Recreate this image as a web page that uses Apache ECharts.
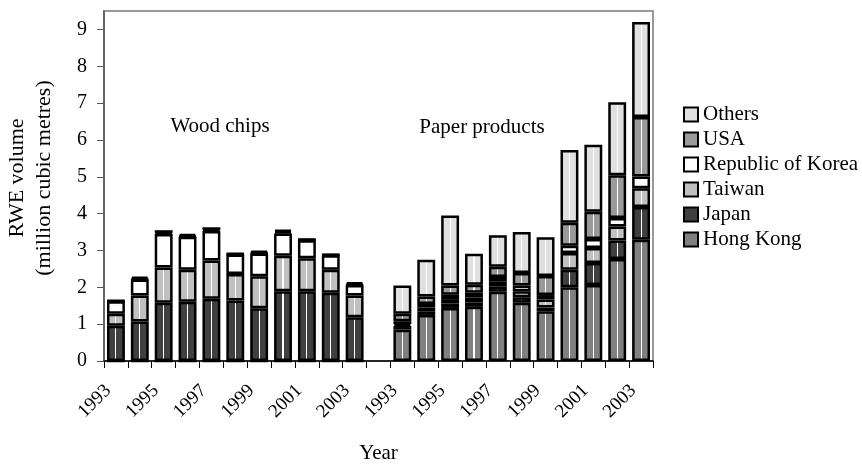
<!DOCTYPE html>
<html>
<head>
<meta charset="utf-8">
<script src="https://cdn.jsdelivr.net/npm/echarts@6/dist/echarts.min.js"></script>
<style>
html,body{margin:0;padding:0;background:#fff;}
#chart{width:862px;height:465px;}
</style>
</head>
<body>
<div id="chart"></div>
<script>
// ---- DATA ----
const years = ['1993','1994','1995','1996','1997','1998','1999','2000','2001','2002','2003'];
const groups = ['Wood chips', 'Paper products'];
const yTicks = [0,1,2,3,4,5,6,7,8,9];

const seriesNames = ['Hong Kong','Japan','Taiwan','Republic of Korea','USA','Others'];
const legendOrder = ['Others','USA','Republic of Korea','Taiwan','Japan','Hong Kong'];

// Wood chips (million cubic metres RWE)
const woodHongKong = [0,0,0,0,0,0,0,0,0,0,0];
const woodJapan    = [0.96,1.07,1.58,1.61,1.69,1.64,1.43,1.89,1.89,1.85,1.19];
const woodTaiwan   = [0.32,0.71,0.96,0.87,1.04,0.72,0.87,0.97,0.90,0.63,0.59];
const woodKorea    = [0.34,0.43,0.91,0.89,0.80,0.53,0.62,0.60,0.49,0.39,0.28];
const woodUSA      = [0.01,0.02,0.03,0.02,0.03,0.01,0.02,0.05,0.01,0.01,0.02];
const woodOthers   = [0.01,0.06,0.07,0.06,0.07,0.02,0.05,0.05,0.01,0.01,0.06];

// Paper products
const paperHongKong = [0.85,1.25,1.44,1.47,1.88,1.58,1.35,2.00,2.06,2.77,3.29];
const paperJapan    = [0.10,0.10,0.12,0.12,0.14,0.15,0.10,0.48,0.60,0.50,0.89];
const paperTaiwan   = [0.05,0.10,0.12,0.13,0.13,0.16,0.22,0.45,0.41,0.38,0.51];
const paperKorea    = [0.08,0.10,0.12,0.13,0.13,0.16,0.12,0.20,0.24,0.23,0.32];
const paperUSA      = [0.20,0.20,0.25,0.22,0.28,0.34,0.52,0.62,0.74,1.16,1.61];
const paperOthers   = [0.77,1.00,1.90,0.84,0.85,1.11,1.05,1.98,1.82,1.98,2.58];

// ---- BUILD ----
const categories = years.map(y => 'W' + y).concat(['gap']).concat(years.map(y => 'P' + y));
function join(a, b) { return a.concat([null]).concat(b); }
const seriesData = {
  'Hong Kong': join(woodHongKong, paperHongKong),
  'Japan': join(woodJapan, paperJapan),
  'Taiwan': join(woodTaiwan, paperTaiwan),
  'Republic of Korea': join(woodKorea, paperKorea),
  'USA': join(woodUSA, paperUSA),
  'Others': join(woodOthers, paperOthers)
};
const baseColors = {
  'Hong Kong': '#808080',
  'Japan': '#404040',
  'Taiwan': '#c0c0c0',
  'Republic of Korea': '#ffffff',
  'USA': '#9a9a9a',
  'Others': '#e0e0e0'
};
// fill with a thin white vertical line through the middle (pattern look)
function striped(c) {
  if (c === '#ffffff') return c;
  return new echarts.graphic.LinearGradient(0, 0, 1, 0, [
    { offset: 0, color: c }, { offset: 0.47, color: c },
    { offset: 0.47, color: '#ffffff' }, { offset: 0.53, color: '#ffffff' },
    { offset: 0.53, color: c }, { offset: 1, color: c }
  ]);
}
const FONT = '"Liberation Serif", "Times New Roman", serif';
const FS = 21;

const chart = echarts.init(document.getElementById('chart'), null, {renderer: 'canvas'});
chart.setOption({
  backgroundColor: '#ffffff',
  animation: false,
  textStyle: { fontFamily: FONT, color: '#000' },
  grid: { left: 104, right: 209, top: 11, bottom: 104, containLabel: false, outerBoundsMode: 'none', show: true, borderColor: '#999999', borderWidth: 2, backgroundColor: 'transparent' },
  legend: {
    data: legendOrder,
    orient: 'vertical',
    left: 683,
    top: 104,
    padding: 0,
    itemWidth: 14,
    itemHeight: 14,
    itemGap: 4,
    icon: 'rect',
    textStyle: { fontFamily: FONT, fontSize: FS, color: '#000' }
  },
  xAxis: {
    type: 'category',
    data: categories,
    axisLine: { lineStyle: { color: '#000', width: 1.5 } },
    axisTick: { show: true, interval: 0, length: 7, lineStyle: { color: '#000' } },
    axisLabel: {
      interval: 1,
      rotate: 45,
      margin: 19,
      padding: [0, 11, 0, 0],
      fontFamily: FONT,
      fontSize: 19,
      color: '#000',
      formatter: v => v === 'gap' ? '' : v.slice(1)
    },
    name: 'Year',
    nameLocation: 'middle',
    nameGap: 82,
    nameTextStyle: { fontFamily: FONT, fontSize: FS, color: '#000' }
  },
  yAxis: {
    type: 'value',
    min: 0,
    max: 9.5,
    interval: 1,
    axisLine: { show: true, lineStyle: { color: '#555', width: 1.5 } },
    axisTick: { show: true, length: 7, lineStyle: { color: '#555' } },
    splitLine: { show: false },
    axisLabel: {
      showMaxLabel: false,
      margin: 17,
      fontFamily: FONT,
      fontSize: 20,
      color: '#000',
      formatter: v => (yTicks.indexOf(v) >= 0 ? String(v) : '')
    }
  },
  graphic: [
    { type: 'text', x: 31, y: 178, rotation: Math.PI / 2,
      style: { text: 'RWE volume\n(million cubic metres)', font: '22px ' + FONT, fill: '#000', align: 'center', verticalAlign: 'middle', lineHeight: 27 } },
    { type: 'text', x: 220, y: 126,
      style: { text: groups[0], font: FS + 'px ' + FONT, fill: '#000', align: 'center', verticalAlign: 'middle' } },
    { type: 'text', x: 482, y: 127,
      style: { text: groups[1], font: FS + 'px ' + FONT, fill: '#000', align: 'center', verticalAlign: 'middle' } }
  ],
  series: seriesNames.map(name => ({
    name: name,
    type: 'bar',
    stack: 'total',
    barWidth: '75%',
    data: seriesData[name],
    itemStyle: { color: striped(baseColors[name]), borderColor: '#000', borderWidth: 2.5 },
    emphasis: { disabled: true }
  }))
});
</script>
</body>
</html>
